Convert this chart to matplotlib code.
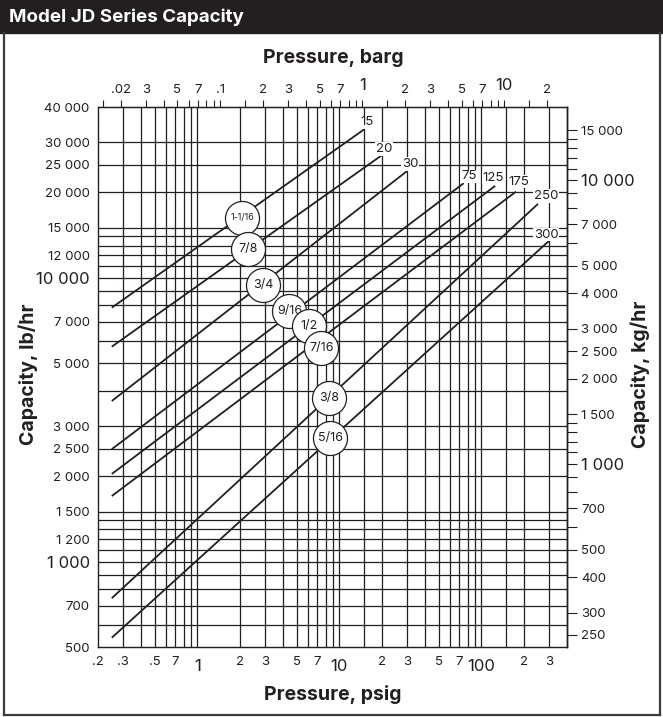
import numpy as np
import matplotlib
matplotlib.use("Agg")
import matplotlib.pyplot as plt
from matplotlib.patches import Rectangle
from matplotlib.lines import Line2D
from matplotlib.ticker import NullLocator
import matplotlib.transforms as mtransforms

plt.rcParams['font.family'] = ['Inter', 'DejaVu Sans']

# ------------------------------
# data (psig, lb/hr)

orifice = ['1-1/16', '7/8', '3/4', '9/16', '1/2', '7/16', '3/8', '5/16']
max_psig = [15, 20, 30, 75, 125, 175, 250, 300]
start_psig = [0.25, 0.25, 0.25, 0.25, 0.25, 0.25, 0.25, 0.25]
start_lbhr = [7850, 5720, 3680, 2490, 2036, 1702, 743, 539]
end_lbhr = [33400, 27100, 23800, 21550, 21100, 20130, 18220, 13520]

circle_psig = [2.07, 2.29, 2.9, 4.45, 6.1, 7.45, 8.5, 8.65]
circle_lbhr = [16300, 12600, 9430, 7650, 6760, 5640, 3760, 2720]

psig_grid = [0.3, 0.4, 0.5, 0.6, 0.7, 0.8, 0.9, 1, 2, 3, 4, 5, 6, 7, 8, 9, 10,
             15, 20, 30, 40, 50, 60, 70, 80, 90, 100, 150, 200, 300]
lb_grid = [600, 700, 800, 900, 1000, 1100, 1200, 1300, 1400, 1500, 2000, 2500,
           3000, 4000, 5000, 6000, 7000, 8000, 9000, 10000, 11000, 12000, 13000,
           14000, 15000, 20000, 25000, 30000]

lb_labels = [500, 700, 1000, 1200, 1500, 2000, 2500, 3000, 5000, 7000, 10000,
             12000, 15000, 20000, 25000, 30000, 40000]
kg_ticks = [250, 300, 400, 500, 600, 700, 800, 900, 1000, 1100, 1200, 1300, 1400,
            1500, 2000, 2500, 3000, 4000, 5000, 6000, 7000, 8000, 9000, 10000,
            11000, 12000, 13000, 14000, 15000]
kg_labels = [250, 300, 400, 500, 700, 1000, 1500, 2000, 2500, 3000, 4000, 5000,
             7000, 10000, 15000]

barg_ticks = [0.015, 0.02, 0.03, 0.04, 0.05, 0.06, 0.07, 0.08, 0.09, 0.1, 0.15,
              0.2, 0.3, 0.4, 0.5, 0.6, 0.7, 0.8, 0.9, 1, 1.5, 2, 3, 4, 5, 6, 7,
              8, 9, 10, 15, 20]
barg_label_vals = [0.02, 0.03, 0.05, 0.07, 0.1, 0.2, 0.3, 0.5, 0.7, 1, 2, 3, 5, 7, 10, 20]
barg_label_text = ['.02', '3', '5', '7', '.1', '2', '3', '5', '7', '1', '2', '3', '5', '7', '10', '2']

psig_label_vals = [0.2, 0.3, 0.5, 0.7, 1, 2, 3, 5, 7, 10, 20, 30, 50, 70, 100, 200, 300]
psig_label_text = ['.2', '.3', '.5', '7', '1', '2', '3', '5', '7', '10', '2', '3', '5', '7', '100', '2', '3']

# offsets (pixels) of the pressure labels at the line ends
end_dx = [3, 2, 3, 5, -2, 3, 8, -3]
end_dy = [7, 6, 7, 7, 8, 10, 8, 6]

PSI_PER_BAR = 14.5038
KG_PER_LB = 0.45359237
ink = '#231f20'

# ------------------------------

W, H = 663, 717
fig = plt.figure(figsize=(W / 100, H / 100), dpi=100)

# header bar + frame
fig.add_artist(Rectangle((0, 1 - 33 / H), 1, 33 / H, transform=fig.transFigure,
                         color=ink, zorder=0))
fig.text(9 / W, 1 - 17 / H, 'Model JD Series Capacity', color='white',
         fontsize=13.5, fontweight='bold', ha='left', va='center')
for xs, ys in [([4 / W, 4 / W], [2 / H, 1 - 33 / H]),
               ([660 / W, 660 / W], [2 / H, 1 - 33 / H]),
               ([4 / W, 660 / W], [2 / H, 2 / H])]:
    fig.add_artist(Line2D(xs, ys, transform=fig.transFigure, color='#3c3c3c', lw=1.6))

ax = fig.add_axes([98 / W, 1 - 647 / H, 469 / W, 540 / H])
ax.set_xscale('log')
ax.set_yscale('log')
ax.set_xlim(0.2, 400)
ax.set_ylim(500, 40000)

ax.vlines(psig_grid, 500, 40000, colors=ink, lw=0.9, zorder=1)
ax.hlines(lb_grid, 0.2, 400, colors=ink, lw=0.9, zorder=1)
for s in ax.spines.values():
    s.set_linewidth(1.0)
    s.set_color(ink)

ax.set_xticks([])
ax.xaxis.set_minor_locator(NullLocator())
ax.set_yticks(lb_labels, [f"{v:,}".replace(',', ' ') for v in lb_labels])
ax.yaxis.set_minor_locator(NullLocator())
ax.tick_params(axis='y', length=0, pad=6, labelsize=9.5, labelcolor=ink)
for lab, v in zip(ax.get_yticklabels(), lb_labels):
    if v in (1000, 10000):
        lab.set_fontsize(12)

# right axis, kg/hr
sec_y = ax.secondary_yaxis('right', functions=(lambda v: v * KG_PER_LB, lambda v: v / KG_PER_LB))
sec_y.set_yticks(kg_ticks, [f"{v:,}".replace(',', ' ') if v in kg_labels else '' for v in kg_ticks])
sec_y.yaxis.set_minor_locator(NullLocator())
sec_y.tick_params(length=7.2, width=0.8, pad=3, direction='out', labelsize=9.5,
                  color=ink, labelcolor=ink)
for lab in sec_y.get_yticklabels():
    if lab.get_text() in ('1 000', '10 000'):
        lab.set_fontsize(12)
sec_y.spines['right'].set_linewidth(1.0)

# top axis, barg
sec_x = ax.secondary_xaxis('top', functions=(lambda p: p / PSI_PER_BAR, lambda b: b * PSI_PER_BAR))
sec_x.set_xticks(barg_ticks, [''] * len(barg_ticks))
sec_x.xaxis.set_minor_locator(NullLocator())
sec_x.tick_params(length=5, width=0.8, direction='out', color=ink)

trans = mtransforms.blended_transform_factory(ax.transData, ax.transAxes)
for b, s in zip(barg_label_vals, barg_label_text):
    big = s in ('1', '10')
    ax.text(b * PSI_PER_BAR, 1.0407 if big else 1.0315, s, transform=trans,
            ha='center', va='center', fontsize=12 if big else 9.5, color=ink, clip_on=False)
for p, s in zip(psig_label_vals, psig_label_text):
    big = s in ('1', '10', '100')
    ax.text(p, -0.0352 if big else -0.0272, s, transform=trans,
            ha='center', va='center', fontsize=12 if big else 9.5, color=ink, clip_on=False)

# capacity lines
for i in range(len(orifice)):
    ax.plot([start_psig[i], max_psig[i]], [start_lbhr[i], end_lbhr[i]],
            color=ink, lw=1.3, zorder=3, solid_capstyle='butt')
    ax.annotate(str(max_psig[i]), (max_psig[i], end_lbhr[i]),
                xytext=(end_dx[i], end_dy[i]), textcoords='offset pixels',
                ha='center', va='center', fontsize=9.5, color=ink, zorder=3,
                bbox=dict(facecolor='white', edgecolor='none', pad=0.5))

# orifice circles
for i in range(len(orifice)):
    ax.plot(circle_psig[i], circle_lbhr[i], 'o', ms=24.5, mfc='white', mec=ink,
            mew=0.9, zorder=4 + 2 * i)
    ax.text(circle_psig[i], circle_lbhr[i], orifice[i], ha='center', va='center',
            fontsize=6.5 if len(orifice[i]) > 4 else 9, color=ink, zorder=5 + 2 * i)

fig.text(333 / W, 1 - 58 / H, 'Pressure, barg', fontsize=14, fontweight='bold',
         ha='center', va='center', color=ink)
fig.text(333 / W, 1 - 694 / H, 'Pressure, psig', fontsize=14, fontweight='bold',
         ha='center', va='center', color=ink)
fig.text(28 / W, 1 - 374 / H, 'Capacity, lb/hr', fontsize=14, fontweight='bold',
         rotation=90, ha='center', va='center', color=ink)
fig.text(640 / W, 1 - 374 / H, 'Capacity, kg/hr', fontsize=14, fontweight='bold',
         rotation=90, ha='center', va='center', color=ink)

fig.savefig('out.png', dpi=100)
